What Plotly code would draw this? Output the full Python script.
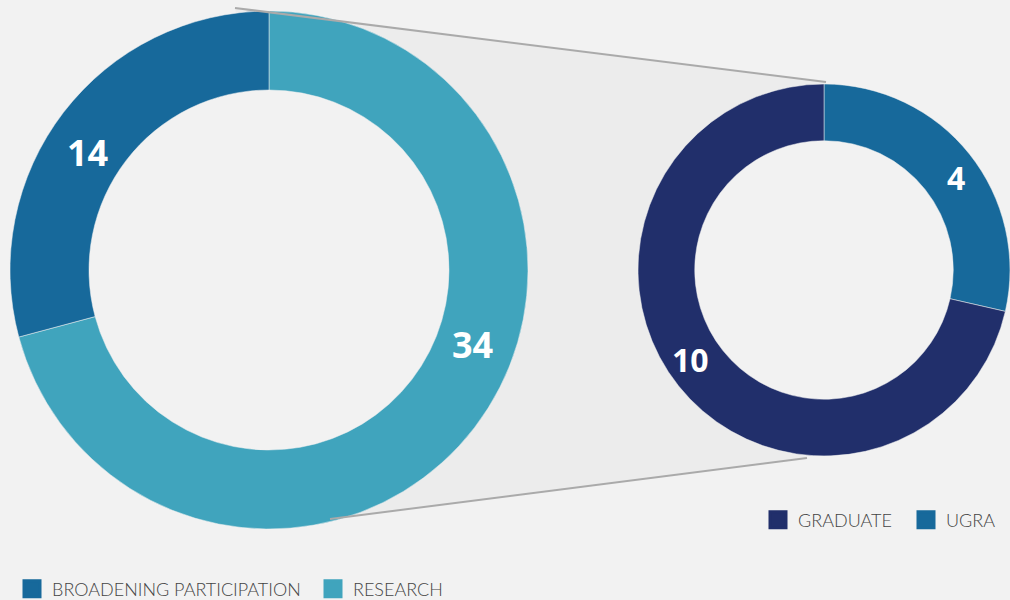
import math
import plotly.graph_objects as go

# Funding split shown on the large ring
main_labels = ["BROADENING PARTICIPATION", "RESEARCH"]
main_values = [14, 34]
main_colors = ["#17699b", "#40a4bd"]

# Breakdown of the broadening-participation slice on the small ring
sub_labels = ["UGRA", "GRADUATE"]
sub_values = [4, 10]
sub_colors = ["#17699b", "#212f6b"]

# Legend order for the small ring
sub_legend_order = ["GRADUATE", "UGRA"]

W, H = 1010, 600
BG = "#f2f2f2"
WEDGE = "#ececec"

# ring geometry (pixels)
big_c, big_r, big_hole = (269, 270), 259, 0.695
small_c, small_r, small_hole = (824, 270), 186, 0.695


def dom(c, r):
    cx, cy = c
    return dict(x=[max((cx - r) / W, 0.0), min((cx + r) / W, 1.0)],
                y=[(H - cy - r) / H, (H - cy + r) / H])


fig = go.Figure()

# large ring: drawn clockwise from 12 o'clock, research first so that the
# broadening-participation slice sits on the upper left
fig.add_trace(go.Pie(
    labels=main_labels[::-1], values=main_values[::-1], sort=False,
    direction="clockwise", rotation=0, hole=big_hole,
    marker=dict(colors=main_colors[::-1], line=dict(color="rgba(242,242,242,0.5)", width=1)),
    textinfo="none", hoverinfo="label+value", showlegend=False,
    domain=dom(big_c, big_r),
))
fig.add_trace(go.Pie(
    labels=sub_labels, values=sub_values, sort=False,
    direction="clockwise", rotation=0, hole=small_hole,
    marker=dict(colors=sub_colors, line=dict(color="rgba(242,242,242,0.5)", width=1)),
    textinfo="none", hoverinfo="label+value", showlegend=False,
    domain=dom(small_c, small_r),
))

# legend entries
def legend_entry(lab, col, legend):
    fig.add_trace(go.Scatter(x=[None], y=[None], mode="markers", name=lab,
                             marker=dict(symbol="square", size=16, color=col,
                                         line=dict(color=col, width=3)),
                             legend=legend, hoverinfo="skip"))


for lab, col in zip(main_labels, main_colors):
    legend_entry(lab, col, "legend")
sub_color_map = dict(zip(sub_labels, sub_colors))
for lab in sub_legend_order:
    legend_entry(lab, sub_color_map[lab], "legend2")

# value labels placed around each ring (angle in degrees, counterclockwise from 3 o'clock)
label_angles_main = [147, -20]
label_angles_sub = [35, 214]
label_font = "Open Sans"


def ring_label(c, r, hole, angle, text, size, dr):
    rm = r * (1 + hole) / 2 + dr
    x = c[0] + rm * math.cos(math.radians(angle))
    y = c[1] - rm * math.sin(math.radians(angle))
    fig.add_annotation(x=x, y=y, xref="x", yref="y", text=f"<b>{text}</b>",
                       showarrow=False,
                       font=dict(family=label_font, size=size, color="white"))


for v, a in zip(main_values, label_angles_main):
    ring_label(big_c, big_r, big_hole, a, v, 36, -3)
for v, a in zip(sub_values, label_angles_sub):
    ring_label(small_c, small_r, small_hole, a, v, 32, 3)

# connector wedge between the two rings
top_a = (235, 8)
top_b = (826, 82)
bot_a = (330, 519)
bot_b = (807, 458)
shapes = [
    dict(type="path", layer="below", xref="x", yref="y",
         path=f"M{top_a[0]},{top_a[1]} L{top_b[0]},{top_b[1]} L{bot_b[0]},{bot_b[1]} L{bot_a[0]},{bot_a[1]} Z",
         fillcolor=WEDGE, line=dict(width=0)),
]
for (c, r, h) in [(big_c, big_r, big_hole), (small_c, small_r, small_hole)]:
    ri = r * h
    shapes.append(dict(type="circle", layer="below", xref="x", yref="y",
                       x0=c[0] - ri, x1=c[0] + ri, y0=c[1] - ri, y1=c[1] + ri,
                       fillcolor=BG, line=dict(width=0)))
for p, q in [(top_a, top_b), (bot_a, bot_b)]:
    shapes.append(dict(type="line", layer="above", xref="x", yref="y",
                       x0=p[0], y0=p[1], x1=q[0], y1=q[1],
                       line=dict(color="#aaaaaa", width=2)))

legend_font = dict(family="Lato", size=18, color="#444444", weight=300)

fig.update_layout(
    width=W, height=H,
    margin=dict(l=0, r=0, t=0, b=0, autoexpand=False),
    paper_bgcolor=BG, plot_bgcolor=BG,
    shapes=shapes,
    xaxis=dict(range=[0, W], visible=False, fixedrange=True, domain=[0, 1]),
    yaxis=dict(range=[H, 0], visible=False, fixedrange=True, domain=[0, 1]),
    legend=dict(orientation="h", x=12 / W, xanchor="left", y=1 - 589 / H, yanchor="middle",
                entrywidth=256,
                font=legend_font, bgcolor="rgba(0,0,0,0)", itemclick=False, itemdoubleclick=False),
    legend2=dict(orientation="h", x=758 / W, xanchor="left", y=1 - 520 / H, yanchor="middle",
                 entrywidth=103,
                 font=legend_font, bgcolor="rgba(0,0,0,0)", itemclick=False, itemdoubleclick=False),
    hovermode="closest",
)

fig.write_html("out.html", config={"displayModeBar": False})
